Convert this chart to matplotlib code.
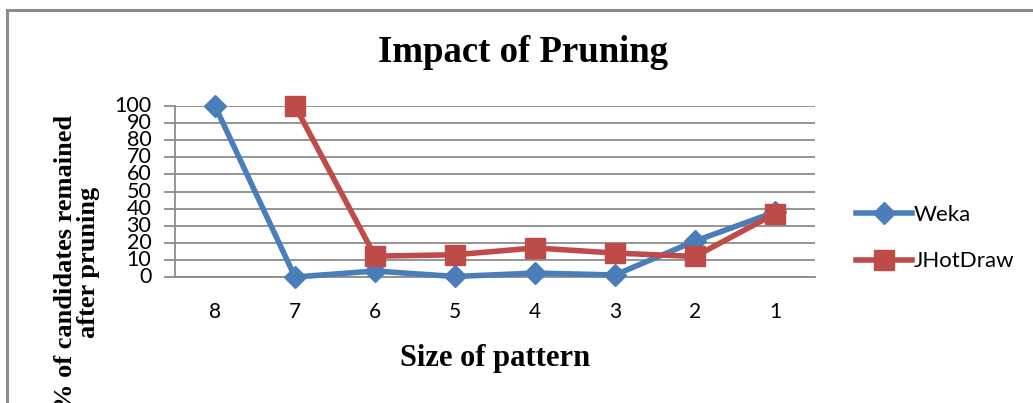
import matplotlib
matplotlib.use("Agg")
import matplotlib.pyplot as plt
from matplotlib.lines import Line2D

# data
sizes = ["8", "7", "6", "5", "4", "3", "2", "1"]
weka = [100, 0, 3.5, 0.3, 2.3, 1.2, 21, 38]
jhotdraw = [None, 100, 12.2, 13, 17, 14, 12, 37]
yticks = list(range(0, 101, 10))

W, H = 1033, 403
fig = plt.figure(figsize=(W / 100, H / 100), dpi=100)
ax = fig.add_axes([175 / W, 1 - 277 / H, 640 / W, (277 - 106) / H])

x = list(range(len(sizes)))
ax.plot(x, weka, color="#4a7ebb", lw=4, marker="D", ms=11,
        label="Weka", solid_joinstyle="round", zorder=3, clip_on=False)
jx = [i for i, v in zip(x, jhotdraw) if v is not None]
jv = [v for v in jhotdraw if v is not None]
ax.plot(jx, jv, color="#be4b48", lw=4, marker="s", ms=14,
        label="JHotDraw", solid_joinstyle="round", zorder=3, clip_on=False)

ax.set_xlim(-0.5, len(sizes) - 0.5)
ax.set_ylim(0, 100)
ax.set_xticks(x)
ax.set_xticklabels(sizes, fontname="Lato", fontsize=15)
ax.set_yticks(yticks)
ax.set_yticklabels([str(t) for t in yticks], fontname="Lato", fontsize=15.5)
ax.grid(axis="y", color="#8c8c8c", lw=1.3)
ax.set_axisbelow(True)
for s in ["top", "right"]:
    ax.spines[s].set_visible(False)
ax.spines["left"].set_color("#8c8c8c")
ax.spines["bottom"].set_color("#8c8c8c")
ax.spines["left"].set_linewidth(1.3)
ax.spines["bottom"].set_linewidth(1.3)
ax.tick_params(axis="y", color="#8c8c8c", length=8, width=1.3, pad=9)
ax.tick_params(axis="x", length=0, pad=18)
for lab in ax.get_yticklabels():
    lab.set_verticalalignment("center")

ax.set_xlabel("Size of pattern", fontname="Liberation Serif", fontweight="bold",
              fontsize=22, labelpad=16)

fig.text(523 / W, 1 - 52 / H, "Impact of Pruning", ha="center", va="center",
         fontname="Liberation Serif", fontweight="bold", fontsize=26.5)
fig.text(77 / W, 1 - 262 / H, "% of candidates remained\nafter pruning",
         ha="center", va="center", rotation=90, linespacing=1.0,
         fontname="Liberation Serif", fontweight="bold", fontsize=19)

leg = fig.legend(loc="center left", bbox_to_anchor=(836 / W, 1 - 238 / H),
                 frameon=False, prop={"family": "Lato", "size": 16},
                 handlelength=2.5, handletextpad=0.1, labelspacing=1.2)

# chart area border (top and left visible in the reference)
fig.add_artist(Line2D([7 / W, 1], [1 - 10 / H, 1 - 10 / H], color="#8c8c8c", lw=2.2))
fig.add_artist(Line2D([7 / W, 7 / W], [0, 1 - 10 / H], color="#8c8c8c", lw=2.2))

fig.savefig("out.png", dpi=100)
